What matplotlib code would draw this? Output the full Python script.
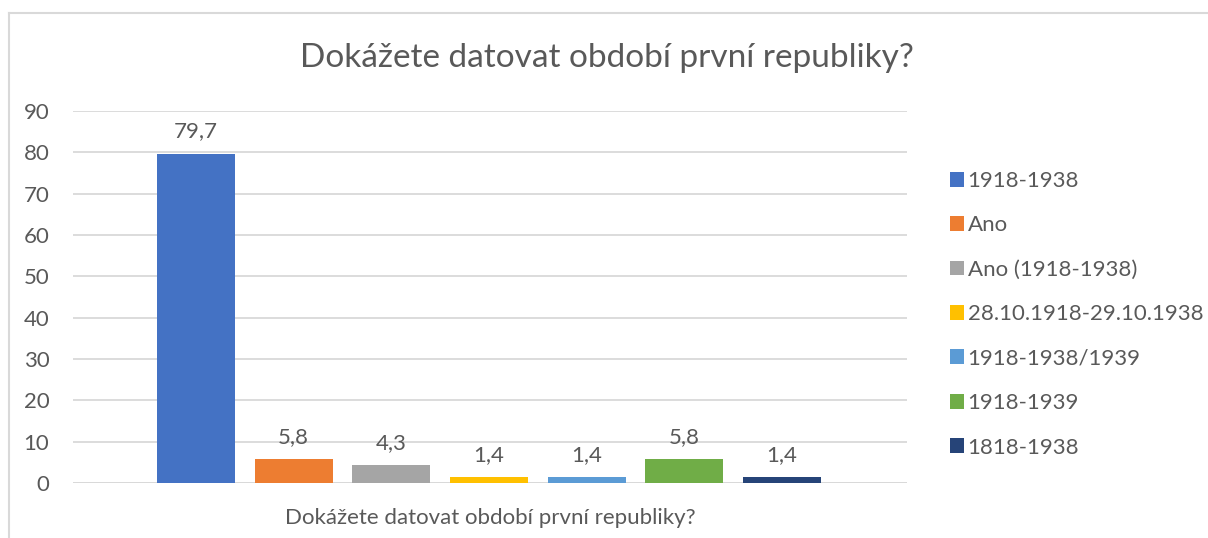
import matplotlib
matplotlib.use("Agg")
import matplotlib.pyplot as plt
from matplotlib.patches import Patch
from matplotlib.lines import Line2D

plt.rcParams['font.family'] = ['Lato', 'DejaVu Sans']

title = "Dokážete datovat období první republiky?"
category = "Dokážete datovat období první republiky?"
series = ["1918-1938", "Ano", "Ano (1918-1938)", "28.10.1918-29.10.1938",
          "1918-1938/1939", "1918-1939", "1818-1938"]
values = [79.7, 5.8, 4.3, 1.4, 1.4, 5.8, 1.4]
colors = ["#4472c4", "#ed7d31", "#a5a5a5", "#ffc000", "#5b9bd5", "#70ad47", "#264478"]
yticks = [0, 10, 20, 30, 40, 50, 60, 70, 80, 90]

TXT = "#595959"
FS = 16
W, H = 1208, 538
fig = plt.figure(figsize=(W / 100, H / 100), dpi=100)

# plot area in pixels: x 73..907, y 111..483
ax = fig.add_axes([73 / W, 1 - 483 / H, (907 - 73) / W, (483 - 111) / H])

pos = list(range(len(values)))
ax.bar(pos, values, width=0.8, color=colors, zorder=3)
for x, v in zip(pos, values):
    ax.text(x, v + 3.0, f"{v:.1f}".replace(".", ","), ha="center", va="bottom",
            fontsize=FS, color=TXT)

ax.set_xlim(-1.26, len(values) - 1 + 1.28)
ax.set_ylim(0, 90)
ax.set_yticks(yticks)
ax.set_yticklabels([str(t) for t in yticks], fontsize=FS, color=TXT)
ax.tick_params(axis="y", length=0, pad=17)
ax.set_xticks([])
ax.yaxis.grid(True, color="#d9d9d9", lw=1.3, zorder=0)
for s in ax.spines.values():
    s.set_visible(False)
ax.axhline(0, color="#d9d9d9", lw=1.3, zorder=2)

fig.text(490 / W, 1 - 518 / H, category, ha="center", va="center", fontsize=FS, color=TXT)
fig.text(607 / W, 1 - 58 / H, title, ha="center", va="center", fontsize=24, color=TXT)

handles = [Patch(facecolor=c, edgecolor="none") for c in colors]
fig.legend(handles, series, loc="upper left", bbox_to_anchor=(941 / W, 1 - 162 / H),
           frameon=False, fontsize=FS, labelcolor=TXT, handlelength=0.65,
           handleheight=0.65, handletextpad=0.15, labelspacing=1.1, borderaxespad=0)

# chart border (left and top visible)
fig.add_artist(Line2D([9 / W, 9 / W], [0, 1 - 13 / H], color="#d9d9d9", lw=1.5,
                      transform=fig.transFigure))
fig.add_artist(Line2D([9 / W, 1], [1 - 13 / H, 1 - 13 / H], color="#d9d9d9", lw=1.5,
                      transform=fig.transFigure))

fig.savefig("out.png", dpi=100, facecolor="white")
